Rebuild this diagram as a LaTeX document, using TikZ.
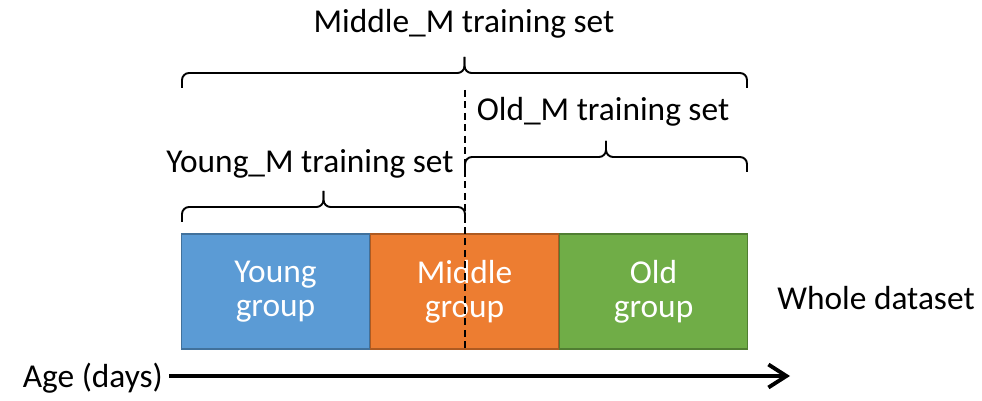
\documentclass[tikz,border=0pt]{standalone}
\usepackage{fontspec}
\setmainfont{Carlito}
\usepackage{tikz}
\usetikzlibrary{positioning,arrows.meta}

\definecolor{youngblue}{HTML}{5B9BD5}
\definecolor{youngedge}{HTML}{41719C}
\definecolor{middleorange}{HTML}{ED7D31}
\definecolor{middleedge}{HTML}{AE5A21}
\definecolor{oldgreen}{HTML}{70AD47}
\definecolor{oldedge}{HTML}{507E32}

\tikzset{
  group/.style={minimum width=3.76cm, minimum height=2.3cm, inner sep=0pt,
    text=white, align=center, font=\fontsize{19}{19.5}\selectfont, line width=0.6pt},
  label/.style={font=\fontsize{19}{22}\selectfont},
  brace/.style={line width=1.1pt, rounded corners=4pt},
  splitline/.style={line width=0.9pt, dash pattern=on 4pt off 2.5pt},
  agearrow/.style={line width=2.6pt, -{Straight Barb[length=0.36cm, width=0.46cm, line width=2.2pt]}}
}

% curly bracket over a range: left x, right x, y of the hook ends
\newcommand{\setbrace}[3]{%
  \draw[brace] (#1,#3) |- ({(#1+#2)/2},#3-15) -- ({(#1+#2)/2},#3-31);
  \draw[brace] (#2,#3) |- ({(#1+#2)/2},#3-15) -- ({(#1+#2)/2},#3-31);}

\begin{document}
\begin{tikzpicture}[x=0.02cm, y=-0.02cm]
    \useasboundingbox (0,0) rectangle (982,401);

    % the three age groups
    \node[group, fill=youngblue, draw=youngedge] (young) at (275.5,291.5) {Young\\group};
    \node[group, fill=middleorange, draw=middleedge, right=0pt of young] (middle) {Middle\\group};
    \node[group, fill=oldgreen, draw=oldedge, right=0pt of middle] (old) {Old\\group};
    \node[label] (whole) at (876,298) {Whole dataset};

    % age axis
    \node[label, anchor=east] (age) at (169,378) {Age (days)};
    \coordinate (agetip) at (790,376);
    \draw[agearrow] (age.east |- agetip) -- (agetip);

    % training sets
    \setbrace{182}{747}{88}
    \setbrace{465}{747}{172}
    \setbrace{182}{465}{222}
    \node[label] (middleset) at (464,24) {Middle\_M training set};
    \node[label] (oldset) at (603,112) {Old\_M training set};
    \node[label] (youngset) at (310,164) {Young\_M training set};

    % split of the middle group
    \coordinate (splittop) at (465,90);
    \coordinate (splitbottom) at (465,352);
    \draw[splitline] (splittop) -- (splitbottom);
\end{tikzpicture}
\end{document}
